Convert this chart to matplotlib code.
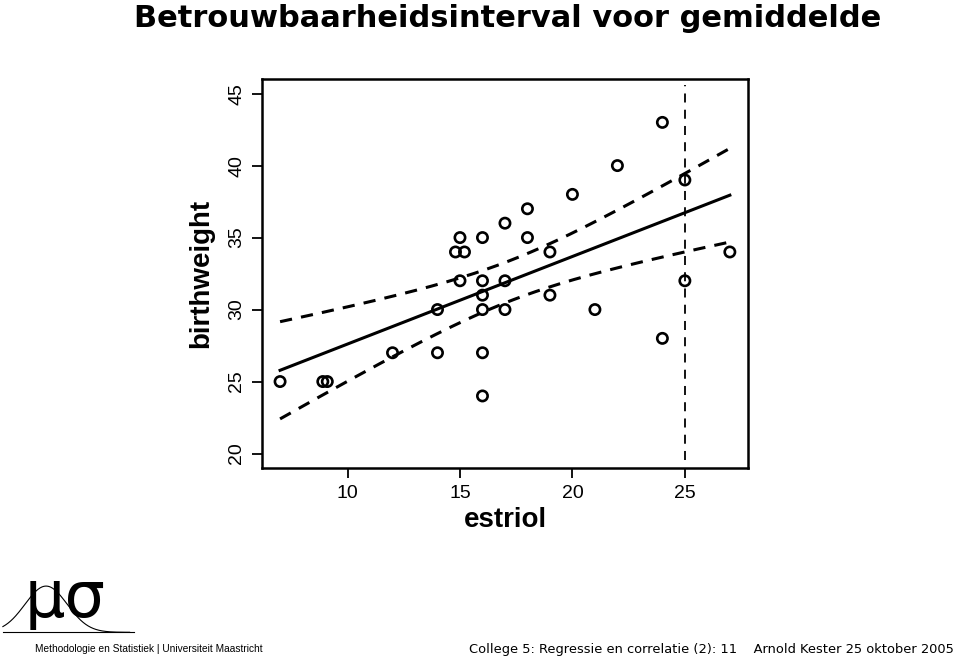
import numpy as np
import matplotlib
matplotlib.use("Agg")
import matplotlib.pyplot as plt

# Data (estriol vs birthweight)
estriol = [7, 8.9, 9.1, 12, 14, 14, 15, 14.8, 15.2, 15, 16, 16, 16, 16, 16, 16,
           17, 17, 17, 18, 18, 19, 19, 20, 21, 22, 24, 24, 25, 25, 27]
birthweight = [25, 25, 25, 27, 27, 30, 35, 34, 34, 32, 35, 32, 31, 30, 27, 24,
               36, 32, 30, 37, 35, 34, 31, 38, 30, 40, 43, 28, 39, 32, 34]
x_ticks = [10, 15, 20, 25]
y_ticks = [20, 25, 30, 35, 40, 45]
x_ref = 25
t_crit = 2.045  # t(0.975, 29)

plt.rcParams['font.family'] = ['Liberation Sans', 'DejaVu Sans']

x = np.array(estriol, dtype=float)
y = np.array(birthweight, dtype=float)
n = len(x)
b1, b0 = np.polyfit(x, y, 1)
resid = y - (b0 + b1 * x)
s = np.sqrt(np.sum(resid ** 2) / (n - 2))
sxx = np.sum((x - x.mean()) ** 2)
xs = np.linspace(x.min(), x.max(), 200)
fit = b0 + b1 * xs
half = t_crit * s * np.sqrt(1 / n + (xs - x.mean()) ** 2 / sxx)

fig = plt.figure(figsize=(9.6, 6.6), dpi=100)
ax = fig.add_axes([0.273, 0.291, 0.506, 0.589])

ax.scatter(x, y, s=55, facecolors='none', edgecolors='black', linewidths=1.9, zorder=3)
ax.plot(xs, fit, color='black', lw=2.2)
ax.plot(xs, fit + half, color='black', lw=2.2, ls=(0, (4, 3)))
ax.plot(xs, fit - half, color='black', lw=2.2, ls=(0, (4, 3)))
ax.axvline(x_ref, ymin=0.02, ymax=0.985, color='black', lw=1.3, ls=(0, (5, 4)))

ax.set_xlim(6.2, 27.8)
ax.set_ylim(19.0, 46.0)
ax.set_xticks(x_ticks)
ax.set_yticks(y_ticks)
ax.set_xticklabels([str(v) for v in x_ticks], fontsize=14)
ax.set_yticklabels([str(v) for v in y_ticks], fontsize=14, rotation=90, va='center')
ax.tick_params(direction='out', length=7, width=1.3, pad=5)
for sp in ax.spines.values():
    sp.set_linewidth(1.8)
ax.set_xlabel('estriol', fontsize=20, fontweight='bold', labelpad=4)
ax.set_ylabel('birthweight', fontsize=20, fontweight='bold', labelpad=10)

fig.text(0.529, 0.972, 'Betrouwbaarheidsinterval voor gemiddelde', ha='center', va='center',
         fontsize=22, fontweight='bold', family=['DejaVu Sans'])

# Footer logo
lx = np.linspace(0.003, 0.135, 200)
ly = 0.042 + 0.07 * np.exp(-((lx - 0.048) / 0.022) ** 2 / 2)
fig.add_artist(plt.Line2D(lx, ly, color='black', lw=0.8, transform=fig.transFigure))
fig.add_artist(plt.Line2D([0.003, 0.14], [0.042, 0.042], color='black', lw=0.8,
                          transform=fig.transFigure))
fig.text(0.026, 0.046, 'μσ', fontsize=46, ha='left', va='bottom', family=['DejaVu Sans'])
fig.text(0.036, 0.016, 'Methodologie en Statistiek | Universiteit Maastricht', fontsize=7.3,
         ha='left', va='center')
fig.text(0.994, 0.016, 'College 5: Regressie en correlatie (2): 11    Arnold Kester 25 oktober 2005',
         fontsize=9.4, ha='right', va='center', family=['DejaVu Sans'])

fig.savefig('out.png', dpi=100)
